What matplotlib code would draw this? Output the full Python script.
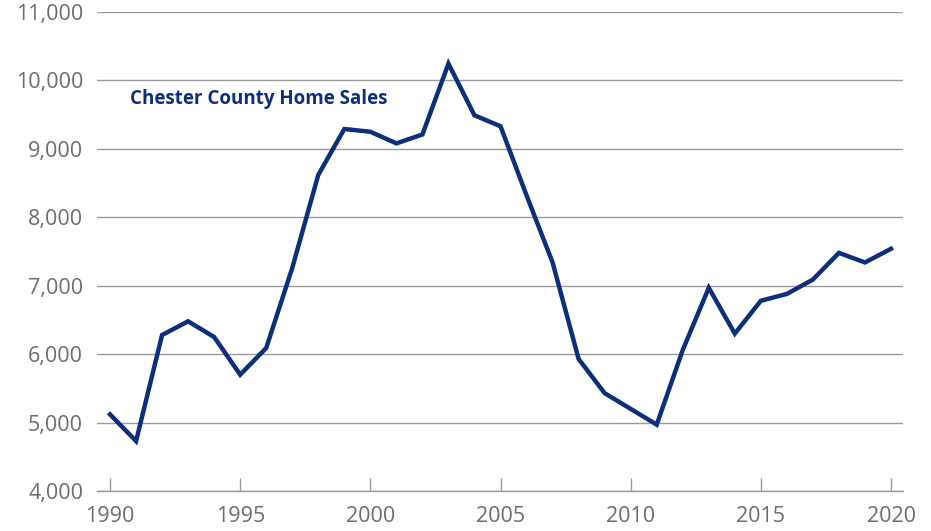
import matplotlib.pyplot as plt
from matplotlib.ticker import FuncFormatter

years = list(range(1990, 2021))
sales = [5120, 4730, 6280, 6480, 6250, 5700, 6090, 7260, 8620, 9290,
         9250, 9080, 9210, 10245, 9490, 9330, 8320, 7340, 5930, 5430,
         5200, 4970, 6060, 6970, 6300, 6780, 6880, 7090, 7480, 7340, 7540]

y_ticks = [4000, 5000, 6000, 7000, 8000, 9000, 10000, 11000]
x_ticks = [1990, 1995, 2000, 2005, 2010, 2015, 2020]

navy = "#0b2f7b"
text_gray = "#6d6d6d"

plt.rcParams['font.family'] = ['Open Sans', 'DejaVu Sans']

fig = plt.figure(figsize=(9.31, 5.31), dpi=100)
ax = fig.add_axes([0.1042, 0.0753, 0.8657, 0.9021])

ax.plot(years, sales, color=navy, linewidth=3.2, solid_joinstyle="miter")

ax.set_ylim(4000, 11000)
ax.set_xlim(1989.5, 2020.46)
ax.set_yticks(y_ticks)
ax.set_xticks(x_ticks)
ax.yaxis.set_major_formatter(FuncFormatter(lambda v, p: f"{int(v):,}"))

ax.grid(axis="y", color="#9a9a9a", linewidth=1)
ax.set_axisbelow(True)
for s in ["top", "right", "left"]:
    ax.spines[s].set_visible(False)
ax.spines["bottom"].set_color("#9a9a9a")
ax.spines["bottom"].set_linewidth(1)

ax.tick_params(axis="y", length=0, pad=10, labelsize=15.5, labelcolor=text_gray)
ax.tick_params(axis="x", direction="in", length=9.5, width=1, color="#9a9a9a",
               pad=11, labelsize=15.5, labelcolor=text_gray)

ax.text(1990.75, 9730, "Chester County Home Sales", color=navy, fontsize=13.5,
        fontweight="bold", va="center", ha="left")

fig.savefig("out.png", dpi=100)
